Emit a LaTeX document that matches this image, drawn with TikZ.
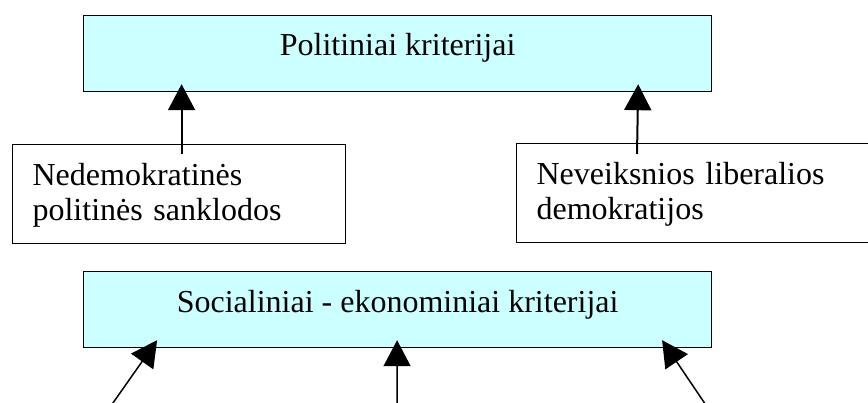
\documentclass[tikz,border=0pt]{standalone}
\usepackage{fontspec}
\setmainfont{Liberation Serif}
\usetikzlibrary{arrows.meta}
\definecolor{boxfill}{RGB}{204,255,255}

\begin{document}
\begin{tikzpicture}[x=1pt,y=-1pt,>={Triangle[width=27pt,length=26pt]},
    crit/.style={draw,fill=boxfill,line width=1.2pt,inner sep=0pt,minimum width=628pt,
      text height=40pt,text depth=36pt,font=\fontsize{32}{35}\selectfont},
    cause/.style={draw,line width=1.2pt,inner xsep=20pt,inner ysep=0pt,align=left,
      text height=41pt,text depth=58pt,font=\fontsize{32}{35}\selectfont}]
    \useasboundingbox (0,0) rectangle (868,403);
    \clip (0,0) rectangle (868,403);
    \node[crit,anchor=north west]  (polit) at (83,15) {Politiniai kriterijai} ;
    \node[cause,anchor=north west,text width=293pt] (nedem) at (12,144)
      {Nedemokratinės\\politinės sanklodos} ;
    \node[cause,anchor=north west,text width=330pt] (nevlib) at (516,143)
      {Neveiksnios liberalios\\demokratijos} ;
    \node[crit,anchor=north west,text height=41pt,text depth=35pt] (socek) at (83,271)
      {Socialiniai - ekonominiai kriterijai} ;
    \draw[->,line width=2pt] ([xshift=2.5pt,yshift=-10pt]nedem.north)
      -- ([xshift=-216pt,yshift=8pt]polit.south) ;
    \draw[->,line width=2pt] ([xshift=121pt,yshift=-11pt]nevlib.north west)
      -- ([xshift=-74pt,yshift=8pt]polit.south east) ;
    \coordinate (c1) at (101,420) ;
    \coordinate (c2) at (397,420) ;
    \coordinate (c3) at (716,420) ;
    \draw[->,line width=1.5pt] (c1) -- ([xshift=-240.5pt,yshift=8pt]socek.south) ;
    \draw[->,line width=1.5pt] (c2) -- ([xshift=-0.5pt,yshift=8pt]socek.south) ;
    \draw[->,line width=1.5pt] (c3) -- ([xshift=264.5pt,yshift=8pt]socek.south) ;
  \end{tikzpicture}
\end{document}
